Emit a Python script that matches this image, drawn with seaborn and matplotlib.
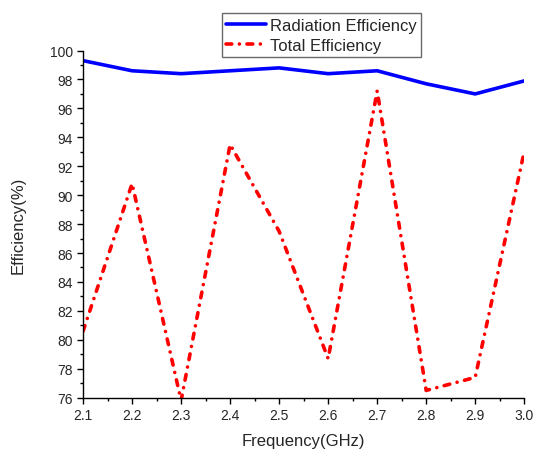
import numpy as np
import pandas as pd
import matplotlib
import matplotlib.pyplot as plt
import seaborn as sns
from matplotlib.ticker import MultipleLocator

matplotlib.use('Agg')

freq = [2.1, 2.2, 2.3, 2.4, 2.5, 2.6, 2.7, 2.8, 2.9, 3.0]
radiation_eff = [99.3, 98.6, 98.4, 98.6, 98.8, 98.4, 98.6, 97.7, 97.0, 97.9]
total_eff = [80.6, 90.8, 75.8, 93.5, 87.5, 78.7, 97.2, 76.5, 77.4, 93.0]

sns.set_style('ticks')
plt.rcParams['font.family'] = ['Liberation Sans', 'DejaVu Sans']

df = pd.DataFrame({'freq': freq, 'Radiation Efficiency': radiation_eff,
                   'Total Efficiency': total_eff})

fig = plt.figure(figsize=(5.36, 4.52), dpi=100)
ax = fig.add_axes([0.155, 0.118, 0.823, 0.768])

sns.lineplot(data=df, x='freq', y='Radiation Efficiency', ax=ax, color='#0000ff',
             linewidth=2.6, label='Radiation Efficiency', legend=False)
sns.lineplot(data=df, x='freq', y='Total Efficiency', ax=ax, color='#ff0000',
             linewidth=2.6, label='Total Efficiency', legend=False)
# dash - dot pattern with round caps
ax.lines[1].set_dashes([1.6, 2.1, 0.01, 2.1])
ax.lines[1].set_dash_capstyle('round')

ax.set_xlim(2.1, 3.0)
ax.set_ylim(76, 100)
ax.xaxis.set_major_locator(MultipleLocator(0.1))
ax.xaxis.set_minor_locator(MultipleLocator(0.05))
ax.yaxis.set_major_locator(MultipleLocator(2))
ax.yaxis.set_minor_locator(MultipleLocator(1))
ax.xaxis.set_major_formatter(matplotlib.ticker.FormatStrFormatter('%.1f'))
ax.tick_params(which='major', length=4, width=1, labelsize=10, color='black')
ax.tick_params(which='minor', length=2.5, width=1, color='black')
for s in ['top', 'right']:
    ax.spines[s].set_visible(False)
for s in ['left', 'bottom']:
    ax.spines[s].set_color('black')
    ax.spines[s].set_linewidth(1)

ax.set_xlabel('Frequency(GHz)', fontsize=12, labelpad=8)
ax.set_ylabel('Efficiency(%)', fontsize=12, labelpad=17)

handles, labels = ax.get_legend_handles_labels()
leg = fig.legend(handles, labels, loc='upper left', bbox_to_anchor=(0.414, 0.968),
                 fontsize=12, frameon=True, fancybox=False, borderpad=0.25,
                 labelspacing=0.3, handlelength=2.4, handletextpad=0.25,
                 borderaxespad=0)
leg.get_frame().set_edgecolor('#444444')
leg.get_frame().set_linewidth(1)

fig.savefig('out.png', dpi=100)
plt.close(fig)
